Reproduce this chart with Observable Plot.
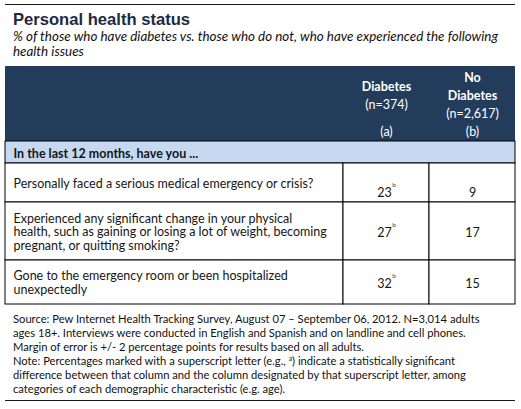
<!DOCTYPE html>
<html>
<head>
<meta charset="utf-8">
<script src="https://cdn.jsdelivr.net/npm/d3@7"></script>
<script src="https://cdn.jsdelivr.net/npm/@observablehq/plot@0.6"></script>
<style>
  html, body { margin: 0; padding: 0; background: #fff; }
  #page { position: relative; width: 521px; height: 409px; overflow: hidden; background: #fff; }
  .rule { position: absolute; left: 5px; width: 510px; height: 0; border-top: 1.5px solid #1a1a1a; }
  #title { position: absolute; left: 13px; top: 12.2px; font: bold 16.6px/16px "Liberation Sans", Arial, sans-serif; color: #1f2a40; white-space: nowrap; }
  #subtitle { position: absolute; left: 13px; top: 28.6px; font: italic 13.4px/15px Lato, sans-serif; color: #111; }
  #notes { position: absolute; left: 13px; top: 311.7px; font: 11.2px/14px Lato, sans-serif; color: #111; }
  #subtitle div, #notes div { white-space: nowrap; }
  #table { position: absolute; left: 0; top: 66px; }
  sup { font-size: 0.6em; line-height: 0; vertical-align: 0.6em; }
</style>
</head>
<body>
<div id="page">
  <div class="rule" style="top:4px"></div>
  <div id="title"></div>
  <div id="subtitle"></div>
  <div id="table"></div>
  <div id="notes"></div>
  <div class="rule" style="top:399.5px"></div>
</div>
<script>
// ---------- DATA ----------
const titleText = "Personal health status";
const subtitleLines = [
  "% of those who have diabetes vs. those who do not, who have experienced the following",
  "health issues"
];
const groupNameLines = [["Diabetes"], ["No", "Diabetes"]];
const sampleSizes = ["(n=374)", "(n=2,617)"];
const groupLetters = ["(a)", "(b)"];
const sectionLabel = "In the last 12 months, have you ...";
const questionLines = [
  ["Personally faced a serious medical emergency or crisis?"],
  ["Experienced any significant change in your physical",
   "health, such as gaining or losing a lot of weight, becoming",
   "pregnant, or quitting smoking?"],
  ["Gone to the emergency room or been hospitalized",
   "unexpectedly"]
];
const diabetesPct = [23, 27, 32];
const diabetesSig = ["b", "b", "b"];
const noDiabetesPct = [9, 17, 15];
const noDiabetesSig = ["", "", ""];
const sourceLines = [
  "Source: Pew Internet Health Tracking Survey, August 07 \u2013 September 06, 2012. N=3,014 adults",
  "ages 18+. Interviews were conducted in English and Spanish and on landline and cell phones.",
  "Margin of error is +/- 2 percentage points for results based on all adults.",
  "Note: Percentages marked with a superscript letter (e.g., {a}) indicate a statistically significant",
  "difference between that column and the column designated by that superscript letter, among",
  "categories of each demographic characteristic (e.g. age)."
];

// ---------- LAYOUT / STYLE ----------
const L = {
  tableLeft: 5,
  colWidths: [338, 86, 86],
  headerH: 75, sectionH: 22, rowH: [39, 58, 44],
  svgH: 242,
  textInset: 8,
  lineH: 13.5,
  headLineH: 18,
  headBlockMid: 33,
  headLetterY: 69,
  baselineShift: 4.5,
  valueShift: [8.5, 0, 0],
  bodyFont: "Lato",
  bodySize: 12.5,
  valueSize: 12.5,
  headSize: 12.5,
  supSize: 6.5,
  supRaise: 9.5,
  navy: "#243c5c",
  lightBlue: "#c6d9f1",
  ink: "#161616"
};

// ---------- HTML text ----------
document.getElementById("title").textContent = titleText;
const sub = document.getElementById("subtitle");
subtitleLines.forEach(t => { const d = document.createElement("div"); d.textContent = t; sub.appendChild(d); });
const notes = document.getElementById("notes");
sourceLines.forEach(t => {
  const d = document.createElement("div");
  const parts = t.split(/\{(\w)\}/);
  parts.forEach((p, i) => {
    if (i % 2 === 1) { const s = document.createElement("sup"); s.textContent = p; d.appendChild(s); }
    else d.appendChild(document.createTextNode(p));
  });
  notes.appendChild(d);
});

// ---------- Table geometry ----------
const colEdges = Array.from(d3.cumsum([0, ...L.colWidths]));
const tableW = colEdges[colEdges.length - 1];
const rowEdges = Array.from(d3.cumsum([0, L.headerH, L.sectionH, ...L.rowH]));
const colCenter = c => (colEdges[c] + colEdges[c + 1]) / 2;
const rowCenter = r => (rowEdges[r + 2] + rowEdges[r + 3]) / 2;

const ctx = document.createElement("canvas").getContext("2d");
const measure = (s, size, weight = "normal") => { ctx.font = `${weight} ${size}px ${L.bodyFont}`; return ctx.measureText(s).width; };

// header text
const headText = [];
groupNameLines.forEach((lines, g) => {
  const all = [...lines.map(t => ({t, bold: true})), {t: sampleSizes[g], bold: false}];
  const n = all.length;
  all.forEach((o, i) => headText.push({
    text: o.t, bold: o.bold, x: colCenter(g + 1),
    y: L.headBlockMid + (i - (n - 1) / 2) * L.headLineH
  }));
  headText.push({text: groupLetters[g], bold: false, x: colCenter(g + 1), y: L.headLetterY});
});

// question lines
const qText = questionLines.flatMap((lines, r) => lines.map((t, i) => ({
  text: t, x: L.textInset,
  y: rowCenter(r) + L.baselineShift + (i - (lines.length - 1) / 2) * L.lineH
})));

// values + superscripts
const valueText = [], supText = [];
[[diabetesPct, diabetesSig], [noDiabetesPct, noDiabetesSig]].forEach(([vals, sigs], g) => {
  vals.forEach((v, r) => {
    const s = String(v), sig = sigs[r];
    const wn = measure(s, L.valueSize), ws = sig ? measure(sig, L.supSize) + 0.5 : 0;
    const x0 = colCenter(g + 1) - (wn + ws) / 2;
    const y = rowCenter(r) + L.baselineShift + 0.5 + L.valueShift[r];
    valueText.push({text: s, x: x0, y});
    if (sig) supText.push({text: sig, x: x0 + wn + 0.5, y: y - L.supRaise});
  });
});

const cells = questionLines.flatMap((q, r) => L.colWidths.map((w, c) => ({r, c})));

const chart = Plot.plot({
  width: 521,
  height: L.svgH,
  margin: 0,
  x: {type: "linear", domain: [0, tableW], range: [L.tableLeft, L.tableLeft + tableW], axis: null},
  y: {type: "linear", domain: [0, L.svgH], range: [0, L.svgH], axis: null},
  style: {fontFamily: L.bodyFont, fontSize: `${L.bodySize}px`, background: "#fff", overflow: "visible"},
  marks: [
    Plot.rect([0], {x1: 0, x2: tableW, y1: rowEdges[0], y2: rowEdges[1], fill: L.navy}),
    Plot.rect([0], {x1: 0, x2: tableW, y1: rowEdges[1], y2: rowEdges[2], fill: L.lightBlue, stroke: "#000", strokeWidth: 1}),
    Plot.rect(cells, {x1: d => colEdges[d.c], x2: d => colEdges[d.c + 1], y1: d => rowEdges[d.r + 2], y2: d => rowEdges[d.r + 3], fill: "#fff", stroke: "#000", strokeWidth: 1}),
    Plot.text(headText.filter(d => d.bold), {x: "x", y: "y", text: "text", fill: "#fff", fontWeight: "bold", fontSize: L.headSize, textAnchor: "middle", lineAnchor: "bottom"}),
    Plot.text(headText.filter(d => !d.bold), {x: "x", y: "y", text: "text", fill: "#fff", fontSize: L.headSize, textAnchor: "middle", lineAnchor: "bottom"}),
    Plot.text([sectionLabel], {x: L.textInset, y: (rowEdges[1] + rowEdges[2]) / 2 + L.baselineShift + 0.5, text: d => d, fill: L.ink, fontWeight: "bold", fontSize: L.bodySize, textAnchor: "start", lineAnchor: "bottom"}),
    Plot.text(qText, {x: "x", y: "y", text: "text", fill: L.ink, fontSize: L.bodySize, textAnchor: "start", lineAnchor: "bottom"}),
    Plot.text(valueText, {x: "x", y: "y", text: "text", fill: L.ink, fontSize: L.valueSize, textAnchor: "start", lineAnchor: "bottom"}),
    Plot.text(supText, {x: "x", y: "y", text: "text", fill: "#444", fontSize: L.supSize, textAnchor: "start", lineAnchor: "bottom"})
  ]
});
document.getElementById("table").appendChild(chart);
</script>
</body>
</html>
